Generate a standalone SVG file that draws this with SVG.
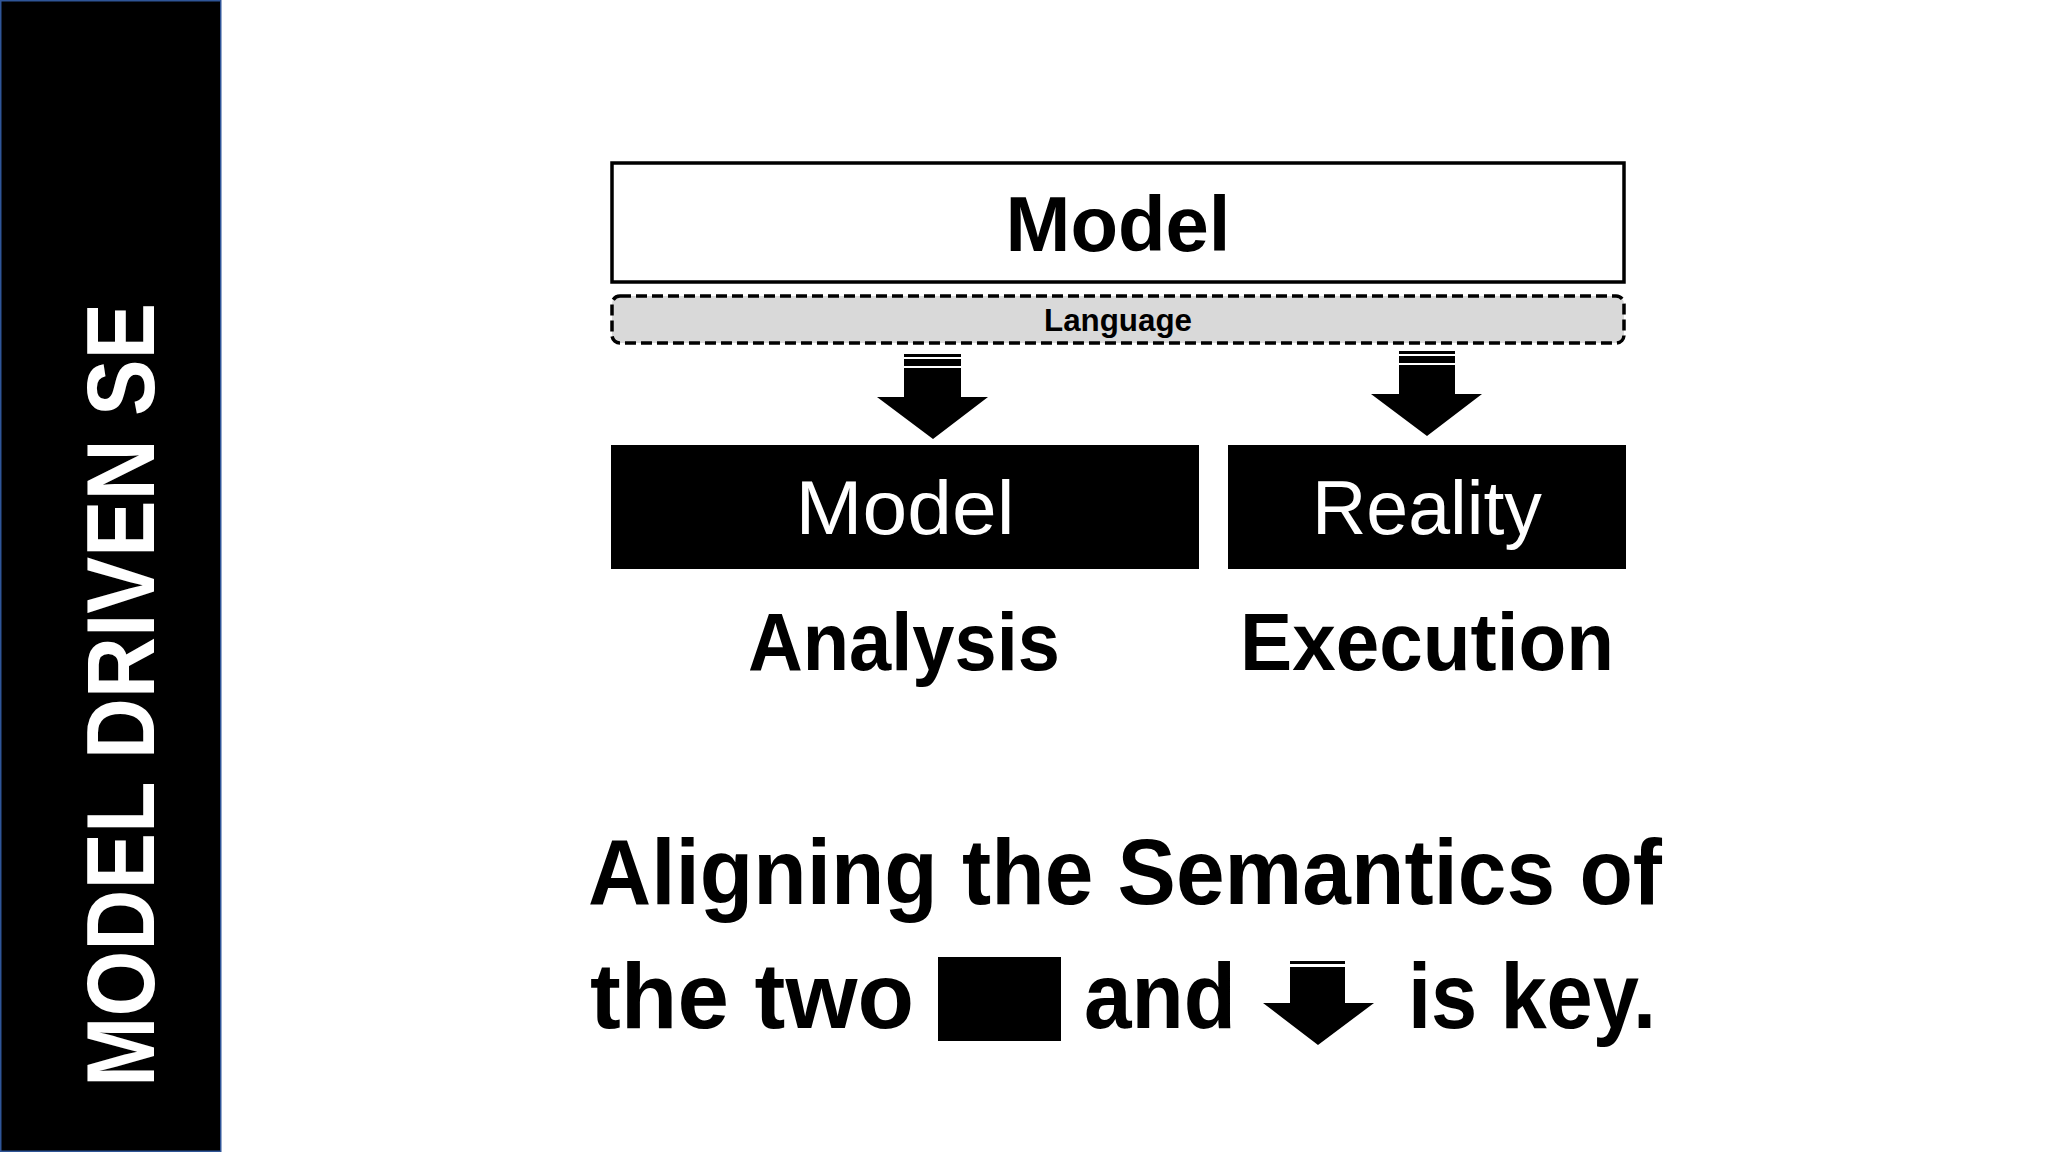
<svg xmlns="http://www.w3.org/2000/svg" width="2048" height="1152" viewBox="0 0 2048 1152">
<style>
  .b { font-family: "Liberation Sans", Arial, sans-serif; font-weight: bold; fill: #000; }
  .w { font-family: "Liberation Sans", Arial, sans-serif; fill: #fff; }
  .blk { fill: #000; }
</style>
<rect x="0" y="0" width="2048" height="1152" fill="#fff"/>

<g id="sidebar">
  <rect x="0.75" y="0.75" width="220" height="1150.5" fill="#000" stroke="#2F5597" stroke-width="1.5"/>
  <text class="w" font-weight="bold" font-size="96" text-anchor="middle" textLength="784" lengthAdjust="spacingAndGlyphs" transform="translate(154,695) rotate(-90)">MODEL DRIVEN SE</text>
</g>

<g id="model-top">
  <rect x="612" y="163" width="1012" height="119" fill="#fff" stroke="#000" stroke-width="3.5"/>
  <text class="b" x="1118" y="251" font-size="77" text-anchor="middle" textLength="225" lengthAdjust="spacingAndGlyphs">Model</text>
</g>

<g id="language">
  <rect x="612" y="296" width="1012" height="47" rx="8" ry="8" fill="#D9D9D9" stroke="#000" stroke-width="3.5" stroke-dasharray="11,5"/>
  <text class="b" x="1118" y="331" font-size="31" text-anchor="middle" textLength="148" lengthAdjust="spacingAndGlyphs">Language</text>
</g>

<g id="connectors">
  <g id="arrow-left">
    <rect x="904" y="354" width="57" height="3" class="blk"/>
    <rect x="904" y="359" width="57" height="7" class="blk"/>
    <polygon points="904,368 961,368 961,397 988,397 933,439 877,397 904,397" class="blk"/>
  </g>
  <g id="arrow-right">
    <rect x="1399" y="351" width="56" height="3" class="blk"/>
    <rect x="1399" y="356" width="56" height="7" class="blk"/>
    <polygon points="1399,365 1455,365 1455,394 1482,394 1427,436 1371,394 1399,394" class="blk"/>
  </g>
</g>

<g id="model-box">
  <rect x="611" y="445" width="588" height="124" class="blk"/>
  <text class="w" x="905" y="534" font-size="76" text-anchor="middle" textLength="219" lengthAdjust="spacingAndGlyphs">Model</text>
</g>

<g id="reality-box">
  <rect x="1228" y="445" width="398" height="124" class="blk"/>
  <text class="w" x="1427" y="534" font-size="76" text-anchor="middle" textLength="230" lengthAdjust="spacingAndGlyphs">Reality</text>
</g>

<g id="analysis-label">
  <text class="b" x="904" y="670" font-size="82" text-anchor="middle" textLength="312" lengthAdjust="spacingAndGlyphs">Analysis</text>
</g>

<g id="execution-label">
  <text class="b" x="1427" y="670" font-size="82" text-anchor="middle" textLength="374" lengthAdjust="spacingAndGlyphs">Execution</text>
</g>

<g id="caption">
  <text class="b" x="588" y="904" font-size="93" textLength="1074" lengthAdjust="spacingAndGlyphs">Aligning the Semantics of</text>
  <text class="b" x="590" y="1028" font-size="93" textLength="324" lengthAdjust="spacingAndGlyphs">the two</text>
  <rect x="938" y="957" width="123" height="84" class="blk"/>
  <text class="b" x="1084" y="1028" font-size="93" textLength="152" lengthAdjust="spacingAndGlyphs">and</text>
  <g id="caption-arrow">
    <rect x="1290" y="961" width="55" height="3" class="blk"/>
    <rect x="1290" y="967" width="55" height="8" class="blk"/>
    <polygon points="1290,975 1345,975 1345,1003 1374,1003 1318,1045 1263,1003 1290,1003" class="blk"/>
  </g>
  <text class="b" x="1408" y="1028" font-size="93" textLength="248" lengthAdjust="spacingAndGlyphs">is key.</text>
</g>
</svg>
